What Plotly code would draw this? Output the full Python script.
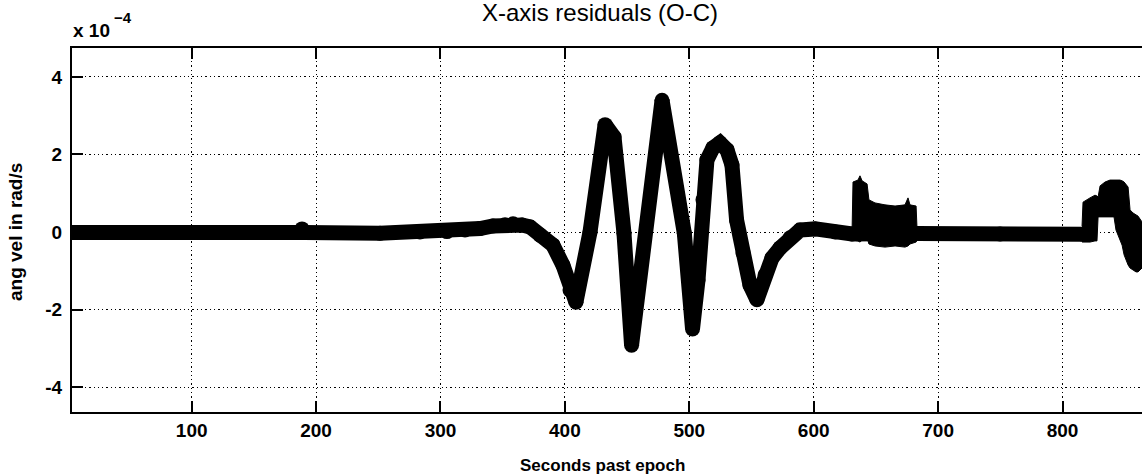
import plotly.graph_objects as go

# ---- data (angular velocity residuals, units of 1e-4 rad/s) ----
t_center = [3.8, 106.7, 187.1, 188.7, 190.3, 251.4, 283.5, 305.2, 319.7, 331.8,
            342.2, 351.9, 358.3, 365.5, 372.0, 380.0, 390.4, 398.5, 404.1, 408.9,
            420.2, 432.3, 439.5, 447.5, 453.6, 478.1, 496.0, 502.6,
            507.0, 511.0, 514.2, 519.0, 524.6, 530.3, 534.3, 538.0, 543.2, 548.8, 554.4,
            560.9, 566.5, 573.0, 581.0, 589.0, 601.1, 617.3, 630.8, 683.1, 749.8,
            816.5]
v_center = [-0.01, -0.01, -0.01, 0.08, -0.01, -0.03, 0.0, 0.01, 0.05, 0.09,
            0.155, 0.19, 0.21, 0.18, 0.13, -0.08, -0.34, -0.86, -1.50, -1.81,
            0.0, 2.77, 2.45, -0.03, -2.92, 3.40, -0.03, -2.50,
            -1.24, 0.83, 1.86, 2.17, 2.30, 2.12, 1.73, 0.31, -0.54, -1.37, -1.75,
            -1.11, -0.67, -0.41, -0.15, 0.05, 0.08, 0.0, -0.05, -0.04, -0.05,
            -0.06]

# burst near 630-683 s (upper / lower envelope)
t_burst1 = [630.8, 631.6, 635.6, 637.2, 638.9, 642.9, 644.4, 649.3, 657.3, 665.4,
            673.4, 675.8, 677.4, 682.3, 683.1]
up_burst1 = [-0.05, 1.29, 1.34, 1.45, 1.32, 1.24, 0.83, 0.75, 0.70, 0.67,
             0.70, 0.88, 0.70, 0.67, 0.05]
lo_burst1 = [-0.21, -0.21, -0.23, -0.26, -0.21, -0.15, -0.31, -0.36, -0.39, -0.36,
             -0.39, -0.36, -0.31, -0.26, -0.21]

# burst near 816-864 s
t_burst2 = [815.7, 816.5, 822.1, 826.1, 827.7, 828.6, 830.2, 834.2, 838.2, 841.4,
            843.0, 846.2, 847.9, 849.5, 852.7, 854.3, 856.7, 859.1, 860.7, 863.9]
up_burst2 = [0.15, 0.77, 0.88, 0.95, 0.93, 0.90, 1.19, 1.29, 1.34, 1.34,
             1.34, 1.34, 1.32, 1.29, 1.16, 0.57, 0.49, 0.44, 0.41, 0.26]
lo_burst2 = [-0.26, -0.26, -0.26, -0.23, -0.23, 0.39, 0.39, 0.39, 0.39, 0.39,
             0.05, -0.21, -0.34, -0.59, -0.85, -0.93, -0.98, -1.03, -1.03, -0.93]

x_ticks = [100, 200, 300, 400, 500, 600, 700, 800]
y_ticks = [-4, -2, 0, 2, 4]
y_ticktext = ["-4", "-2", "0", "2", "4"]

PEN = 15
fig = go.Figure()
fig.add_trace(go.Scatter(x=t_center, y=v_center, mode="lines+markers",
                         line=dict(color="black", width=PEN),
                         marker=dict(color="black", size=PEN, line=dict(width=0)),
                         hoverinfo="skip"))
for tb, ub, lb in [(t_burst1, up_burst1, lo_burst1), (t_burst2, up_burst2, lo_burst2)]:
    fig.add_trace(go.Scatter(x=tb + tb[::-1], y=ub + lb[::-1], mode="lines",
                             fill="toself", fillcolor="black",
                             line=dict(color="black", width=1), hoverinfo="skip"))

W, H = 1142, 476
ML, MT, MB = 72, 48, 64
PX0, PY1 = 72, 412          # plot-area left / bottom in page pixels
PW, PH = 1070, 364


def px(X):
    return (X - PX0) / PW


def py(Y):
    return (PY1 - Y) / PH


bold = dict(family="Liberation Sans", weight="bold", color="black")
fig.update_layout(
    width=W, height=H,
    margin=dict(l=ML, r=0, t=MT, b=MB, pad=0),
    paper_bgcolor="white", plot_bgcolor="white",
    showlegend=False,
    font=dict(family="Liberation Sans, Arial, sans-serif", color="black"),
    xaxis=dict(range=[3.8, 863.9], tickvals=x_ticks, ticks="inside", ticklen=11,
               tickwidth=1.5, tickcolor="black", showline=True, linecolor="black",
               linewidth=2, mirror="ticks", showgrid=True, gridcolor="black",
               gridwidth=1.3, griddash="1.3px,3px", zeroline=False, automargin=False,
               tickfont=dict(size=19, **bold)),
    yaxis=dict(range=[-4.645, 4.748], tickvals=y_ticks, ticktext=y_ticktext,
               ticks="inside", ticklen=11, tickwidth=1.5, tickcolor="black",
               showline=True, linecolor="black", linewidth=2, mirror=False,
               showgrid=True, gridcolor="black", gridwidth=1.3, griddash="1.3px,3px",
               zeroline=False, automargin=False, ticklabelstandoff=4,
               tickfont=dict(size=19, **bold)),
    annotations=[
        dict(text="X-axis residuals (O-C)", xref="paper", yref="paper",
             x=px(600), y=py(13), xanchor="center", yanchor="middle",
             showarrow=False, font=dict(size=24, family="Liberation Sans", color="black")),
        dict(text="Seconds past epoch", xref="paper", yref="paper",
             x=px(602), y=py(465), xanchor="center", yanchor="middle",
             showarrow=False, font=dict(size=17, **bold)),
        dict(text="ang vel in rad/s", xref="paper", yref="paper", textangle=-90,
             x=px(15), y=py(232), xanchor="center", yanchor="middle",
             showarrow=False, font=dict(size=19, **bold)),
        dict(text="x 10", xref="paper", yref="paper", x=px(71), y=py(31),
             xanchor="left", yanchor="middle", showarrow=False,
             font=dict(size=19, **bold)),
        dict(text="−4", xref="paper", yref="paper", x=px(112), y=py(17),
             xanchor="left", yanchor="middle", showarrow=False,
             font=dict(size=15, **bold)),
    ],
)

fig.write_html("out.html", config={"displayModeBar": False},
               post_script="document.body.style.margin='0px';")
